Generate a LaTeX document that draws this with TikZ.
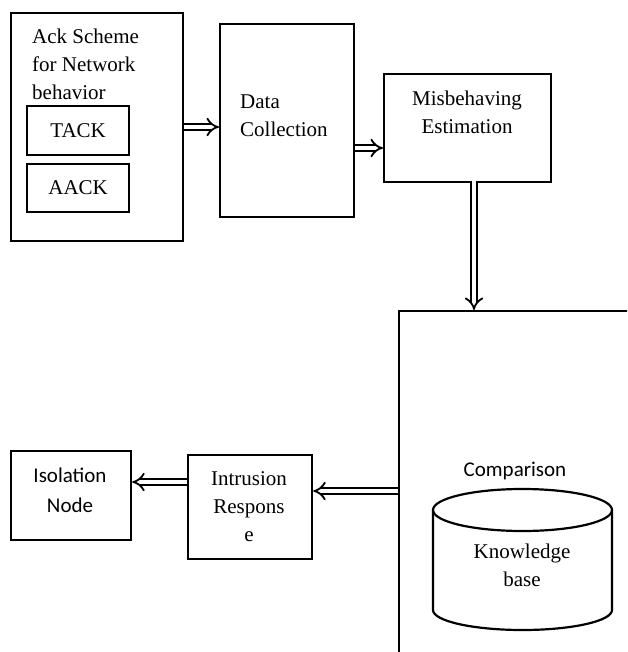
\documentclass[tikz,border=0pt]{standalone}
\usepackage{fontspec}
\setmainfont{Liberation Serif}
\newfontfamily\calibri{Carlito}
\usetikzlibrary{arrows.meta}
\tikzset{
	box/.style={rectangle, draw, line width=2.2pt, anchor=north west, inner sep=0pt},
	boxtext/.style={font=\fontsize{21}{28}\selectfont, align=center, inner sep=0pt},
	dblarrow/.style={double, double distance=4.5pt, line width=1.8pt, -{Implies[scale=1.4]}}
}
\begin{document}
\begin{tikzpicture}[x=1pt, y=-1pt]
		\useasboundingbox (0,0) rectangle (627,652);
		\clip (0,0) rectangle (627,652);

		\node[box, minimum width=172, minimum height=228] at (10,12) (ack) {};
		\node[boxtext, align=left, anchor=north west] at (32,29) (ackt) {Ack Scheme\\for Network\\behavior};
		\node[box, boxtext, minimum width=102, minimum height=49] at (26,105) (tack) {TACK};
		\node[box, boxtext, minimum width=102, minimum height=48] at (26,163) (aack) {AACK};

		\node[box, minimum width=134, minimum height=193] at (219,23) (data) {};
		\node[boxtext, align=left, anchor=west] at (240,116) (datat) {Data\\Collection};

		\node[box, minimum width=167, minimum height=108] at (383,73) (misb) {};
		\node[boxtext] at (467,112) (misbt) {Misbehaving\\Estimation};

		\node[box, minimum width=300, minimum height=400] at (398,310) (cmp) {};
		\node[boxtext, font=\calibri\fontsize{21}{28}\selectfont] at (515,471) (cmpt) {Comparison};

		\draw[line width=2.2pt] (433,510) -- (433,610) arc[start angle=180, end angle=0, x radius=89.5, y radius=20] -- (612,510);
		\draw[line width=2.2pt] (522.5,510) ellipse[x radius=89.5, y radius=21];
		\node[boxtext] at (522,565) (kbt) {Knowledge\\base};

		\node[box, minimum width=124, minimum height=104] at (187,454) (intr) {};
		\node[boxtext] at (249,507) (intrt) {Intrusion\\Respons\\e};

		\node[box, minimum width=120, minimum height=89] at (10,450) (iso) {};
		\node[boxtext, font=\calibri\fontsize{21}{30}\selectfont] at (70,490) (isot) {Isolation\\Node};

		\draw[dblarrow] (ack.east |- 0,127) -- (data.west |- 0,127);
		\draw[dblarrow] (data.east |- 0,148) -- (misb.west |- 0,148);
		\draw[dblarrow] (474,181) -- (474,310);
		\draw[dblarrow] (cmp.west |- 0,491) -- (intr.east |- 0,491);
		\draw[dblarrow] (intr.west |- 0,482) -- (iso.east |- 0,482);
	\end{tikzpicture}
\end{document}
